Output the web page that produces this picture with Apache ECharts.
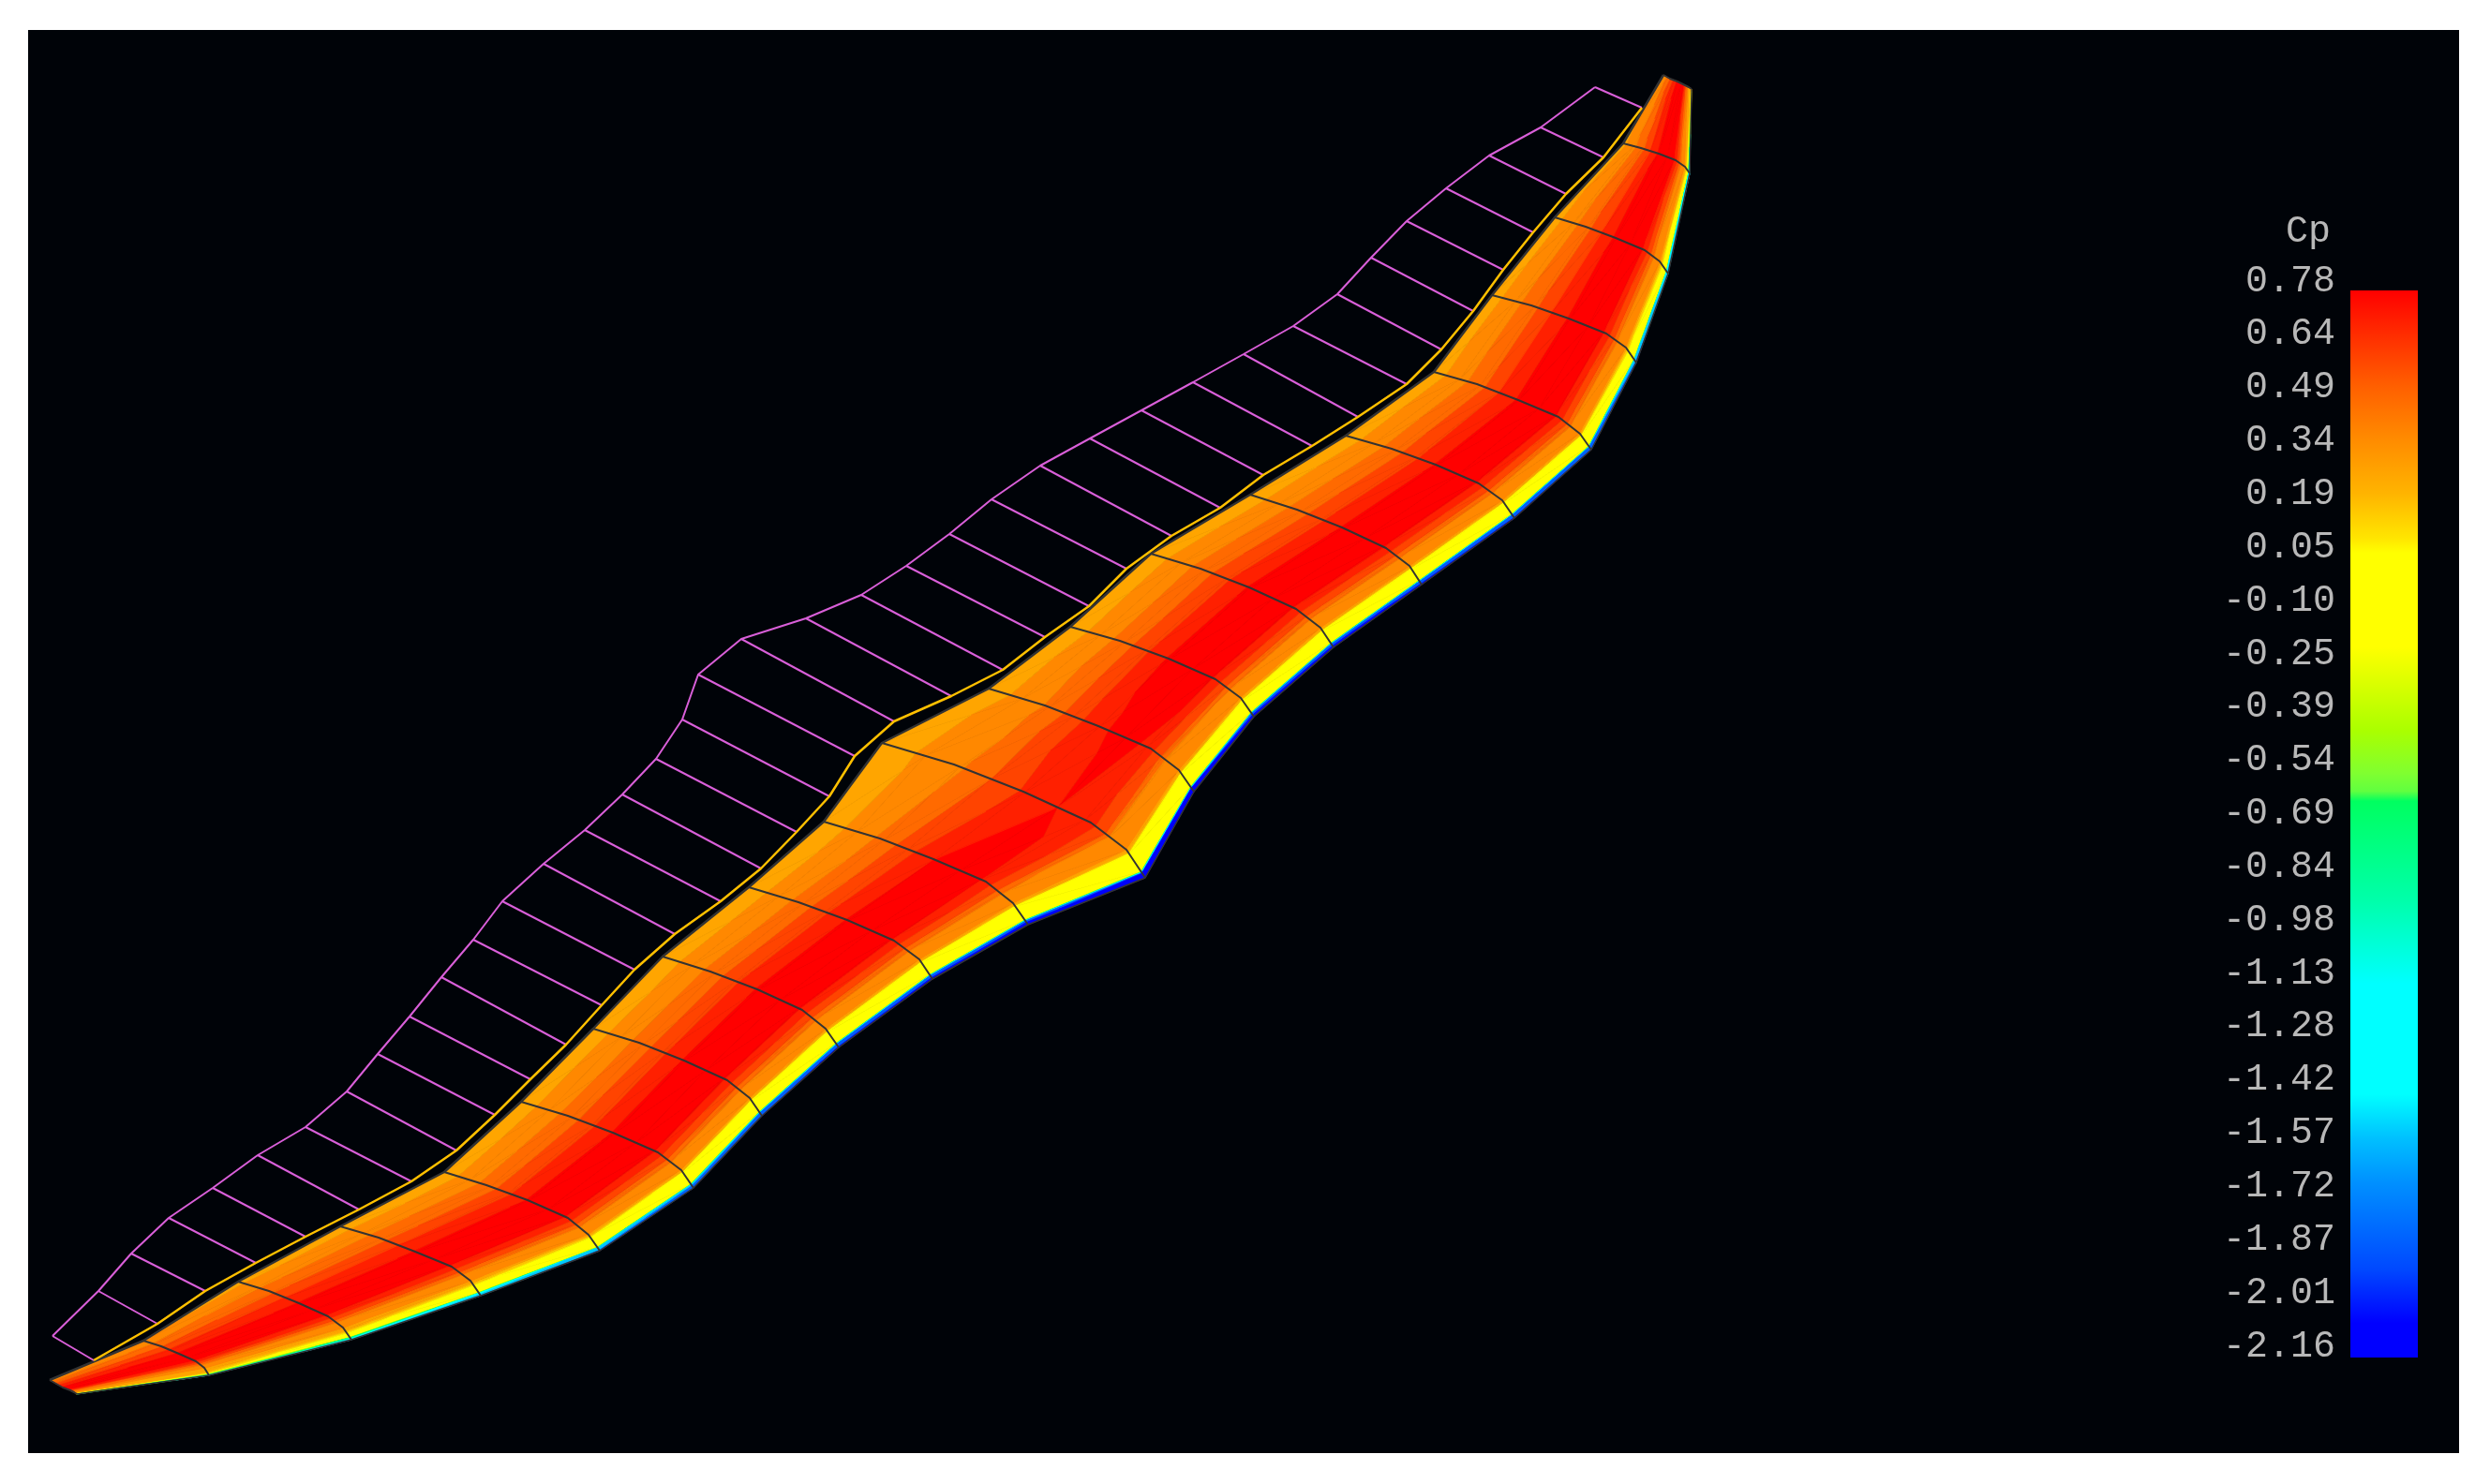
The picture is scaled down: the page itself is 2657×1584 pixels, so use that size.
<!DOCTYPE html>
<html>
<head>
<meta charset="utf-8">
<title>Cp</title>
<script src="https://cdn.jsdelivr.net/npm/echarts@6/dist/echarts.min.js"></script>
<style>
  html, body { margin: 0; padding: 0; background: #ffffff; }
  #main { width: 2657px; height: 1584px; }
</style>
</head>
<body>
<div id="main"></div>
<script>
// ribs from wing tip to wing tip
const ribX = [
  [53, 60, 67, 75, 79, 82],
  [153, 172, 191, 209, 218, 223],
  [254, 287, 319, 350, 366, 375],
  [363, 404, 443, 482, 502, 513],
  [474, 519, 563, 606, 628, 640],
  [556, 606, 654, 702, 727, 740],
  [633, 682, 730, 776, 800, 813],
  [707, 758, 808, 856, 881, 895],
  [799, 852, 904, 954, 981, 995],
  [879, 939, 996, 1052, 1081, 1097],
  [941, 1018, 1092, 1164, 1202, 1222],
  [1055, 1115, 1172, 1228, 1258, 1274],
  [1142, 1195, 1247, 1297, 1324, 1338],
  [1228, 1281, 1333, 1383, 1409, 1423],
  [1334, 1384, 1432, 1479, 1504, 1517],
  [1436, 1485, 1532, 1578, 1603, 1616],
  [1530, 1576, 1620, 1663, 1686, 1698],
  [1592, 1634, 1674, 1714, 1735, 1746],
  [1659, 1692, 1724, 1755, 1771, 1780],
  [1732, 1751, 1770, 1788, 1798, 1803],
  [1775, 1782, 1790, 1798, 1802, 1805]
];
const ribY = [
  [1473, 1477, 1481, 1484, 1486, 1488],
  [1431, 1437, 1445, 1453, 1460, 1468],
  [1368, 1378, 1391, 1405, 1417, 1430],
  [1309, 1321, 1336, 1352, 1367, 1383],
  [1251, 1265, 1281, 1300, 1318, 1335],
  [1176, 1191, 1209, 1230, 1249, 1268],
  [1098, 1113, 1132, 1153, 1172, 1191],
  [1021, 1037, 1056, 1078, 1098, 1118],
  [947, 963, 982, 1004, 1024, 1045],
  [877, 895, 917, 941, 964, 987],
  [793, 816, 845, 878, 907, 937],
  [735, 753, 775, 799, 822, 845],
  [669, 684, 703, 725, 745, 765],
  [591, 607, 627, 650, 670, 691],
  [528, 544, 563, 585, 604, 624],
  [465, 479, 496, 516, 534, 553],
  [397, 410, 427, 445, 463, 480],
  [315, 326, 340, 356, 371, 387],
  [232, 242, 254, 267, 279, 292],
  [153, 158, 164, 171, 178, 185],
  [80, 84, 87, 91, 93, 95]
];

// Cp along each rib, at these fractions of its length
const chordFrac = [0, 0.15, 0.27, 0.38, 0.5, 0.62, 0.72, 0.80, 0.82, 0.89, 0.905, 0.975, 0.982, 1];
const cpTable = [
  [0.30, 0.42, 0.55, 0.68, 0.76, 0.76, 0.72, 0.50, 0.40, 0.30, 0.26, 0.16, -0.20, -0.60],
  [0.25, 0.38, 0.50, 0.64, 0.75, 0.78, 0.74, 0.50, 0.38, 0.28, 0.22, 0.07, -0.30, -1.00],
  [0.20, 0.34, 0.46, 0.60, 0.74, 0.78, 0.74, 0.50, 0.37, 0.26, 0.20, -0.10, -0.70, -1.30],
  [0.18, 0.32, 0.44, 0.60, 0.74, 0.78, 0.74, 0.50, 0.37, 0.26, 0.14, -0.20, -1.00, -1.50],
  [0.17, 0.30, 0.43, 0.58, 0.74, 0.78, 0.74, 0.50, 0.37, 0.25, 0.08, -0.25, -1.30, -1.70],
  [0.17, 0.30, 0.43, 0.58, 0.74, 0.78, 0.74, 0.50, 0.37, 0.25, 0.05, -0.25, -1.50, -1.90],
  [0.17, 0.30, 0.42, 0.58, 0.74, 0.78, 0.74, 0.50, 0.37, 0.25, 0.05, -0.25, -1.60, -1.90],
  [0.17, 0.29, 0.42, 0.58, 0.74, 0.78, 0.74, 0.50, 0.37, 0.25, 0.05, -0.25, -1.60, -2.00],
  [0.17, 0.29, 0.42, 0.58, 0.74, 0.78, 0.74, 0.50, 0.37, 0.25, 0.05, -0.25, -1.70, -2.05],
  [0.17, 0.28, 0.40, 0.56, 0.72, 0.76, 0.72, 0.50, 0.37, 0.25, 0.05, -0.25, -1.80, -2.10],
  [0.17, 0.26, 0.34, 0.48, 0.62, 0.72, 0.70, 0.50, 0.34, 0.24, 0.05, -0.25, -1.90, -2.16],
  [0.17, 0.28, 0.38, 0.54, 0.70, 0.76, 0.70, 0.46, 0.32, 0.24, 0.05, -0.25, -1.90, -2.10],
  [0.17, 0.29, 0.42, 0.58, 0.74, 0.78, 0.74, 0.50, 0.37, 0.25, 0.05, -0.25, -1.80, -2.05],
  [0.17, 0.30, 0.43, 0.58, 0.74, 0.78, 0.74, 0.50, 0.37, 0.25, 0.05, -0.25, -1.80, -2.00],
  [0.17, 0.30, 0.43, 0.58, 0.74, 0.78, 0.74, 0.50, 0.37, 0.25, 0.05, -0.25, -1.70, -2.00],
  [0.17, 0.30, 0.43, 0.58, 0.74, 0.78, 0.74, 0.50, 0.37, 0.25, 0.05, -0.25, -1.70, -1.95],
  [0.18, 0.31, 0.44, 0.60, 0.74, 0.78, 0.74, 0.50, 0.37, 0.25, 0.06, -0.22, -1.60, -1.90],
  [0.18, 0.32, 0.45, 0.60, 0.74, 0.78, 0.74, 0.50, 0.37, 0.25, 0.10, -0.20, -1.40, -1.70],
  [0.19, 0.32, 0.45, 0.60, 0.75, 0.78, 0.74, 0.50, 0.38, 0.26, 0.14, -0.15, -1.10, -1.40],
  [0.20, 0.33, 0.45, 0.60, 0.75, 0.78, 0.74, 0.50, 0.38, 0.27, 0.18, -0.10, -0.90, -1.20],
  [0.25, 0.38, 0.52, 0.66, 0.76, 0.78, 0.74, 0.50, 0.42, 0.30, 0.20, 0.14, 0.10, 0.10]
];

// the undeformed section drawn above the surface
const outerX = [56, 105, 140, 180, 227, 275, 326, 370, 403, 437, 471, 505, 536, 580, 624, 664, 700, 728, 745, 791, 860, 919, 967, 1013, 1058, 1110, 1163, 1218, 1273, 1327, 1380, 1427, 1463, 1501, 1543, 1589, 1644, 1702];
const outerY = [1426, 1378, 1338, 1300, 1268, 1233, 1203, 1165, 1125, 1085, 1043, 1003, 962, 922, 886, 848, 810, 768, 720, 682, 660, 635, 604, 570, 533, 497, 468, 438, 408, 378, 348, 314, 275, 236, 201, 166, 136, 93];
const innerX = [100, 168, 219, 273, 326, 383, 439, 487, 528, 566, 604, 642, 677, 720, 769, 812, 850, 885, 912, 954, 1015, 1070, 1115, 1162, 1202, 1250, 1302, 1348, 1400, 1449, 1501, 1538, 1572, 1604, 1636, 1671, 1711, 1752];
const innerY = [1452, 1413, 1378, 1348, 1320, 1291, 1261, 1228, 1190, 1152, 1115, 1073, 1035, 997, 962, 927, 888, 850, 807, 770, 743, 715, 680, 647, 607, 572, 542, 507, 476, 445, 410, 373, 332, 288, 248, 207, 168, 115];

const cpLabels = ['0.78', '0.64', '0.49', '0.34', '0.19', '0.05', '-0.10', '-0.25', '-0.39', '-0.54', '-0.69', '-0.84', '-0.98', '-1.13', '-1.28', '-1.42', '-1.57', '-1.72', '-1.87', '-2.01', '-2.16'];
const cpMax = 0.78;
const cpMin = -2.16;

// colour bar
const barCp = [0.78, 0.66, 0.514, 0.367, 0.22, 0.096, 0.057, -0.203, -0.433, -0.55, -0.60, -0.627, -0.90, -1.13, -1.435, -1.556, -1.678, -1.918, -2.065, -2.16];
const barColors = ['#ff0000', '#ff2c00', '#ff6000', '#ff8c00', '#ffb400', '#ffe600', '#ffff00', '#ffff00', '#aaff00', '#80ff30', '#60ff40', '#00ff60', '#00ffaa', '#00ffff', '#00ffff', '#00c0ff', '#0090ff', '#0048ff', '#0000ff', '#0000ff'];

// contour bands on the surface
const bandEdges = [1, 0.72, 0.60, 0.48, 0.36, 0.24, 0.12, 0.06, -0.30, -0.60, -0.90, -1.20, -1.60, -1.90, -2.20];
const bandColors = ['#ff0000', '#ff2000', '#ff4400', '#ff6a00', '#ff8800', '#ffa500', '#ffc800', '#ffff00', '#aaff00', '#00ff80', '#00ffff', '#00c8ff', '#0060ff', '#0000ff'];

function ribPoint(i, frac) {
  const xs = ribX[i], ys = ribY[i];
  let total = 0;
  for (let k = 1; k < xs.length; k++) total += Math.hypot(xs[k] - xs[k - 1], ys[k] - ys[k - 1]);
  let left = total * frac;
  for (let k = 1; k < xs.length; k++) {
    const len = Math.hypot(xs[k] - xs[k - 1], ys[k] - ys[k - 1]);
    if (left <= len || k === xs.length - 1) {
      const t = left / len;
      return [xs[k - 1] + (xs[k] - xs[k - 1]) * t, ys[k - 1] + (ys[k] - ys[k - 1]) * t];
    }
    left -= len;
  }
}

const nodes = ribX.map((r, i) => chordFrac.map((f, j) => {
  const p = ribPoint(i, f);
  return [p[0], p[1], cpTable[i][j]];
}));

const cells = [];
for (let i = 0; i < nodes.length - 1; i++) {
  for (let j = 0; j < chordFrac.length - 1; j++) cells.push([i, j]);
}

// keep the part of a polygon on one side of a Cp level
function clipCp(poly, level, above) {
  const out = [];
  for (let k = 0; k < poly.length; k++) {
    const a = poly[k], b = poly[(k + 1) % poly.length];
    const inA = above ? a[2] >= level : a[2] <= level;
    const inB = above ? b[2] >= level : b[2] <= level;
    if (inA) out.push(a);
    if (inA !== inB) {
      const t = (level - a[2]) / (b[2] - a[2]);
      out.push([a[0] + (b[0] - a[0]) * t, a[1] + (b[1] - a[1]) * t, level]);
    }
  }
  return out;
}

function renderCell(params, api) {
  const i = api.value(0), j = api.value(1);
  const a = nodes[i][j], b = nodes[i + 1][j], c = nodes[i + 1][j + 1], d = nodes[i][j + 1];
  const children = [];
  [[a, b, c], [a, c, d]].forEach(tri => {
    bandColors.forEach((color, k) => {
      let poly = clipCp(tri, bandEdges[k], false);
      if (poly.length) poly = clipCp(poly, bandEdges[k + 1], true);
      if (poly.length < 3) return;
      children.push({
        type: 'polygon',
        shape: { points: poly.map(p => api.coord([p[0], p[1]])) },
        style: { fill: color, stroke: color, lineWidth: 0.7 }
      });
    });
  });
  return { type: 'group', children: children };
}

function renderBar(params, api) {
  const top = api.coord([0, cpMax]);
  const bottom = api.coord([1, cpMin]);
  const stops = barCp.map((v, k) => ({ offset: (cpMax - v) / (cpMax - cpMin), color: barColors[k] }));
  return {
    type: 'rect',
    shape: { x: top[0], y: top[1], width: bottom[0] - top[0], height: bottom[1] - top[1] },
    style: { fill: new echarts.graphic.LinearGradient(0, 0, 0, 1, stops) }
  };
}

function lineSeries(points, color, width, z) {
  return {
    type: 'line',
    data: points,
    xAxisIndex: 0,
    yAxisIndex: 0,
    symbol: 'none',
    silent: true,
    z: z,
    lineStyle: { color: color, width: width }
  };
}

const series = [
  { type: 'custom', coordinateSystem: 'cartesian2d', data: cells, renderItem: renderCell, silent: true, z: 2, encode: { x: 0, y: 1 } }
];

// ribs and outline of the surface
ribX.forEach((xs, i) => {
  series.push(lineSeries(xs.map((x, k) => [x, ribY[i][k]]), '#333333', 2, 3));
});
series.push(lineSeries(ribX.map((r, i) => [r[0], ribY[i][0]]), '#333333', 2.5, 3));
series.push(lineSeries(ribX.map((r, i) => [r[r.length - 1], ribY[i][r.length - 1]]), '#333333', 1.5, 3));

// section above the surface
series.push(lineSeries(outerX.map((x, i) => [x, outerY[i]]), '#d95fd9', 2, 4));
outerX.forEach((x, i) => {
  series.push(lineSeries([[x, outerY[i]], [innerX[i], innerY[i]]], '#d95fd9', 2, 4));
});
series.push(lineSeries(innerX.map((x, i) => [x, innerY[i]]), '#ffc000', 2.5, 5));

series.push({ type: 'custom', coordinateSystem: 'cartesian2d', xAxisIndex: 1, yAxisIndex: 1, data: [[0, cpMax]], renderItem: renderBar, silent: true, z: 6 });

const chart = echarts.init(document.getElementById('main'));
chart.setOption({
  animation: false,
  backgroundColor: '#ffffff',
  title: {
    text: 'Cp',
    right: 165,
    top: 222,
    textStyle: { color: '#b8b8b8', fontSize: 40, fontWeight: 'normal', fontFamily: 'Liberation Mono' }
  },
  grid: [
    { left: 30, top: 32, width: 2594, height: 1519, show: true, backgroundColor: '#000308', borderWidth: 0 },
    { left: 2508, top: 310, width: 72, height: 1139 },
    { left: 2508, top: 300, width: 72, height: 1137 }
  ],
  xAxis: [
    { type: 'value', gridIndex: 0, min: 30, max: 2624, show: false },
    { type: 'value', gridIndex: 1, min: 0, max: 1, show: false },
    { type: 'value', gridIndex: 2, min: 0, max: 1, show: false }
  ],
  yAxis: [
    { type: 'value', gridIndex: 0, min: 32, max: 1551, inverse: true, show: false },
    { type: 'value', gridIndex: 1, min: cpMin, max: cpMax, show: false },
    {
      type: 'category',
      gridIndex: 2,
      data: cpLabels,
      inverse: true,
      boundaryGap: false,
      axisLine: { show: false },
      axisTick: { show: false },
      splitLine: { show: false },
      axisLabel: {
        interval: 0,
        margin: 16,
        color: '#b8b8b8',
        fontSize: 40,
        fontFamily: 'Liberation Mono'
      }
    }
  ],
  series: series
});
</script>
</body>
</html>
